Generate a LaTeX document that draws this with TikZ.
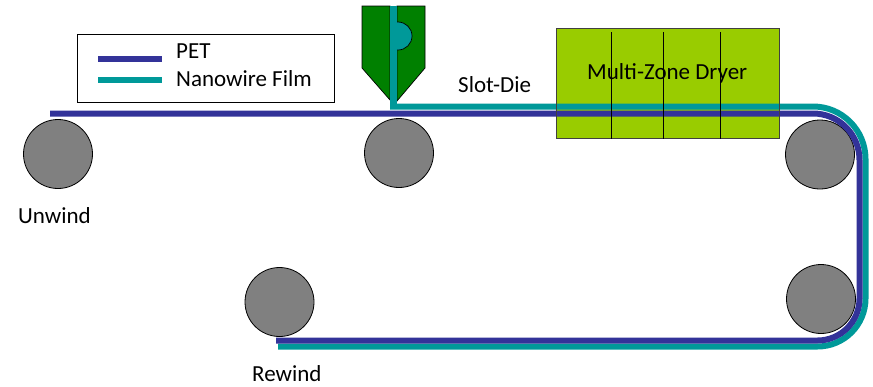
\documentclass[tikz,border=0pt]{standalone}
\usepackage{fontspec}
\setmainfont{Carlito}
\definecolor{petblue}{RGB}{51,51,153}
\definecolor{filmteal}{RGB}{0,153,153}
\definecolor{diegreen}{RGB}{0,128,0}
\definecolor{dryergreen}{RGB}{153,204,0}
\definecolor{rollgray}{RGB}{128,128,128}
\begin{document}
\begin{tikzpicture}[x=1pt,y=-1pt,
  roller/.style={circle,draw=black,fill=rollgray,line width=0.8pt,
                 minimum size=69pt,inner sep=0pt},
  txt/.style={anchor=base west,inner sep=0pt,font=\fontsize{23}{27}\selectfont},
  pet/.style={draw=petblue,line width=6pt},
  film/.style={draw=filmteal,line width=6pt},
  diepart/.style={fill=diegreen,draw=black,line width=0.7pt,line join=miter}]
\useasboundingbox (0,0) rectangle (873,386);

% legend
\node[draw=black,line width=0.8pt,minimum width=257pt,minimum height=68pt,inner sep=0pt]
  (legend) at (205.5,68) {};
\coordinate (petA) at (98,59);   \coordinate (petB) at (162,59);
\coordinate (filmA) at (98,80);  \coordinate (filmB) at (162,80);
\draw[pet] (petA) -- (petB);
\draw[film] (filmA) -- (filmB);
\node[txt] (petlabel) at (176,58.7) {PET};
\node[txt] (filmlabel) at (176,86.7) {Nanowire Film};

% rollers
\node[roller] (unwind) at (58,154) {};
\node[roller] (coat) at (399,153) {};
\node[roller] (turnA) at (820,154.5) {};
\node[roller] (turnB) at (821,299) {};
\node[roller] (rewind) at (279.5,302) {};

% dryer body
\node[fill=dryergreen,minimum width=222pt,minimum height=109pt,inner sep=0pt]
  (dryer) at (668,83.5) {};

% web paths
\coordinate (petStart) at (50,113.5);
\coordinate (petEnd) at (276,340.5);
\coordinate (filmStart) at (390,106.5);
\coordinate (filmEnd) at (278,346.5);
\draw[film] (filmStart) -- (813,106.5) arc[start angle=-90,end angle=0,radius=52.5]
  -- (865.5,298.5) arc[start angle=0,end angle=90,radius=48] -- (filmEnd);
\draw[pet] (petStart) -- (813,113.5) arc[start angle=-90,end angle=0,radius=46.5]
  -- (859.5,298.5) arc[start angle=0,end angle=90,radius=42] -- (petEnd);

% dryer outline and zone dividers
\draw[draw=black!75,line width=1pt] (dryer.north west) rectangle (dryer.south east);
\foreach \x in {611,663,720}
  \draw[black,line width=0.8pt] (\x,32) -- (\x,139);
\node[txt] (dryerlabel) at (587,79.3) {Multi-Zone Dryer};

% slot die
\draw[diepart] (362,6) -- (390,6) -- (390,100) -- (362,68) -- cycle;
\draw[diepart] (397,6) -- (425,6) -- (425,68) -- (397,101) -- cycle;
\draw[fill=filmteal,draw=black,line width=0.7pt]
  (397,22) -- (398,22) arc[start angle=-90,end angle=90,radius=14] -- (397,50);
\fill[filmteal] (390,6) rectangle (397,105);

% labels
\node[txt] (slotlabel) at (458,92) {Slot-Die};
\node[txt] (unwindlabel) at (18,223) {Unwind};
\node[txt] (rewindlabel) at (252,381) {Rewind};
\end{tikzpicture}
\end{document}
